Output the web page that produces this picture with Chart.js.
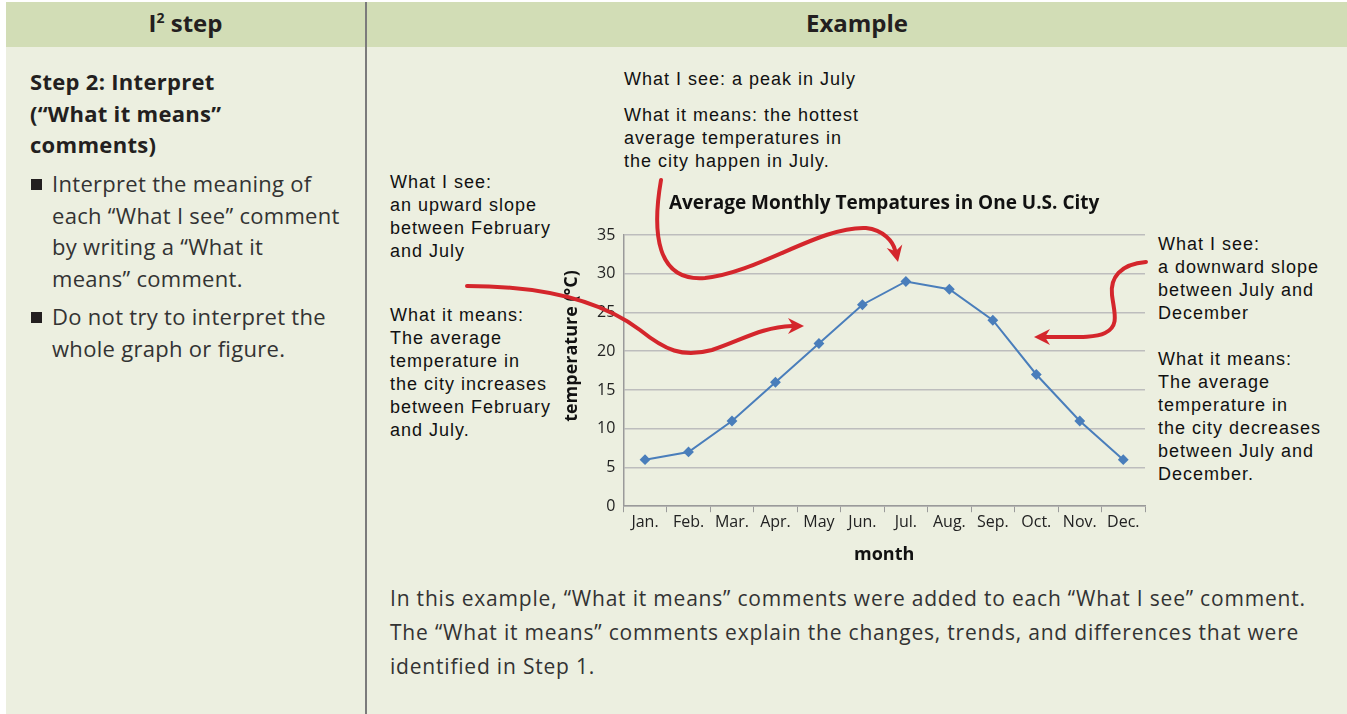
<!DOCTYPE html>
<html lang="en">
<head>
    <meta charset="utf-8">
    <title>I2 step - Interpret</title>
    <script src="https://cdn.jsdelivr.net/npm/chart.js"></script>
    <style>
        body {
            margin: 0;
            width: 1347px;
            height: 714px;
            background: #fff;
            position: relative;
            overflow: hidden;
            font-family: "Open Sans", Lato, sans-serif;
            color: #231f20;
        }
        .panel {
            position: absolute;
            left: 6px;
            top: 2px;
            width: 1341px;
            height: 712px;
            background: #ecefe0;
        }
        .head {
            position: absolute;
            left: 6px;
            top: 2px;
            width: 1341px;
            height: 45px;
            background: #d2ddb6;
        }
        .divider {
            position: absolute;
            left: 365px;
            top: 2px;
            width: 2px;
            height: 712px;
            background: #7b7b7b;
        }
        .htitle {
            position: absolute;
            top: 6px;
            font-size: 24px;
            font-weight: bold;
            text-align: center;
        }
        .step {
            position: absolute;
            left: 30px;
            top: 66px;
            font-size: 22px;
            letter-spacing: 0.3px;
            font-weight: bold;
            line-height: 31.7px;
        }
        .bullet {
            position: absolute;
            left: 52px;
            font-size: 22px;
            letter-spacing: 0.3px;
            line-height: 31.7px;
            color: #333;
        }
        .bullet::before {
            content: "";
            position: absolute;
            left: -21px;
            top: 11px;
            width: 11px;
            height: 11px;
            background: #231f20;
        }
        .note {
            position: absolute;
            font-family: "Liberation Sans", sans-serif;
            font-size: 18px;
            letter-spacing: 1px;
            line-height: 23px;
            color: #111;
        }
        .bottom {
            position: absolute;
            left: 390px;
            top: 581px;
            font-size: 21px;
            letter-spacing: 0.8px;
            line-height: 34px;
            color: #333;
        }
        #chartBox {
            position: absolute;
            left: 558px;
            top: 191px;
            width: 595px;
            height: 379px;
        }
        svg {
            position: absolute;
            left: 0;
            top: 0;
        }
    </style>
</head>
<body>
    <div class="panel"></div>
    <div class="head"></div>
    <div class="divider"></div>
    <div class="htitle" style="left:6px;width:359px;">I<sup style="font-size:14px;">2</sup> step</div>
    <div class="htitle" style="left:367px;width:980px;">Example</div>

    <div class="step">Step 2: Interpret<br>(“What it means”<br>comments)</div>
    <div class="bullet" style="top:168px;">Interpret the meaning of<br>each “What I see” comment<br>by writing a “What it<br>means” comment.</div>
    <div class="bullet" style="top:301px;">Do not try to interpret the<br>whole graph or figure.</div>

    <div class="note" style="left:624px;top:68px;">What I see: a peak in July</div>
    <div class="note" style="left:624px;top:104px;">What it means: the hottest<br>average temperatures in<br>the city happen in July.</div>
    <div class="note" style="left:390px;top:171px;">What I see:<br>an upward slope<br>between February<br>and July</div>
    <div class="note" style="left:390px;top:304px;">What it means:<br>The average<br>temperature in<br>the city increases<br>between February<br>and July.</div>
    <div class="note" style="left:1158px;top:233px;">What I see:<br>a downward slope<br>between July and<br>December</div>
    <div class="note" style="left:1158px;top:348px;">What it means:<br>The average<br>temperature in<br>the city decreases<br>between July and<br>December.</div>

    <div id="chartBox"><canvas id="tempChart"></canvas></div>

    <div class="bottom">In this example, “What it means” comments were added to each “What I see” comment.<br>The “What it means” comments explain the changes, trends, and differences that were<br>identified in Step 1.</div>

    <svg id="arrows" width="1347" height="714"></svg>

    <script>
        // chart data
        const months = ["Jan.", "Feb.", "Mar.", "Apr.", "May", "Jun.", "Jul.", "Aug.", "Sep.", "Oct.", "Nov.", "Dec."];
        const temps = [6, 7, 11, 16, 21, 26, 29, 28, 24, 17, 11, 6];
        const yMin = 0;
        const yMax = 35;
        const yStep = 5;
        const chartTitle = 'Average Monthly Tempatures in One U.S. City';
        const yTitle = 'temperature (°C)';

        // titles placed like the original: main title centred over the plot area,
        // y title sitting a bit above the middle of the axis
        const plotTitles = {
            id: 'plotTitles',
            afterDraw(chart) {
                const a = chart.chartArea;
                const c = chart.ctx;
                c.save();
                c.fillStyle = '#111';
                c.textAlign = 'center';
                c.textBaseline = 'middle';
                c.font = 'bold 19px "Open Sans"';
                c.fillText(chartTitle, (a.left + a.right) / 2, a.top - 31);
                c.translate(a.left - 51, a.top + 111);
                c.rotate(-Math.PI / 2);
                c.font = 'bold 18px "Open Sans"';
                c.fillText(yTitle, 0, 0);
                c.restore();
            }
        };

        const ctx = document.getElementById('tempChart');
        const tempChart = new Chart(ctx, {
            type: 'line',
            data: {
                labels: months,
                datasets: [{
                    label: 'temperature',
                    data: temps,
                    borderColor: '#4a7ebb',
                    backgroundColor: '#4a7ebb',
                    borderWidth: 2,
                    pointStyle: 'rectRot',
                    pointRadius: 4,
                    tension: 0
                }]
            },
            options: {
                responsive: true,
                maintainAspectRatio: false,
                animation: false,
                layout: { padding: { left: 31, right: 8, top: 44, bottom: 0 } },
                plugins: {
                    legend: { display: false },
                    tooltip: { enabled: false },
                    title: { display: false }
                },
                scales: {
                    x: {
                        offset: true,
                        grid: { display: true, offset: true, drawOnChartArea: false, color: '#9a9a9a', tickLength: 6 },
                        border: { color: '#9a9a9a', width: 1.5 },
                        ticks: { color: '#222', font: { family: 'Open Sans', size: 16 }, padding: 1, maxRotation: 0 },
                        title: { display: true, text: 'month', color: '#111', font: { family: 'Open Sans', size: 18, weight: 'bold' }, padding: { top: 11 } }
                    },
                    y: {
                        min: yMin,
                        max: yMax,
                        ticks: { stepSize: yStep, color: '#222', font: { family: 'Open Sans', size: 16 }, padding: 8 },
                        grid: { color: '#bdbdbd', lineWidth: 1.5, drawTicks: false },
                        border: { color: '#9a9a9a', width: 1.5 },
                        title: { display: false }
                    }
                }
            },
            plugins: [plotTitles]
        });

        // red hand-drawn annotation arrows
        const red = '#d4262c';
        const svg = document.getElementById('arrows');
        function curve(d) {
            const p = document.createElementNS('http://www.w3.org/2000/svg', 'path');
            p.setAttribute('d', d);
            p.setAttribute('fill', 'none');
            p.setAttribute('stroke', red);
            p.setAttribute('stroke-width', '4');
            p.setAttribute('stroke-linecap', 'round');
            svg.appendChild(p);
        }
        function head(x, y, ang) {
            const c = Math.cos(ang), s = Math.sin(ang);
            const pt = (a, b) => (x + a * c - b * s).toFixed(1) + ' ' + (y + a * s + b * c).toFixed(1);
            const p = document.createElementNS('http://www.w3.org/2000/svg', 'path');
            p.setAttribute('d', 'M ' + pt(0, 0) + ' L ' + pt(-16, -8) + ' L ' + pt(-11, 0) + ' L ' + pt(-16, 8) + ' Z');
            p.setAttribute('fill', red);
            svg.appendChild(p);
        }
        curve('M 661 180 C 652 232, 656 282, 705 278 C 760 272, 820 226, 866 228 C 884 230, 893 242, 895 250');
        head(898, 262, 1.35);
        curve('M 467 286 C 540 286, 600 300, 640 330 C 665 350, 682 358, 712 350 C 742 340, 762 327, 792 326');
        head(804, 326, 0);
        curve('M 1146 262 C 1120 264, 1110 278, 1112 295 C 1114 312, 1120 326, 1105 333 C 1095 338, 1075 337, 1046 337');
        head(1034, 337, Math.PI);
    </script>
</body>
</html>
